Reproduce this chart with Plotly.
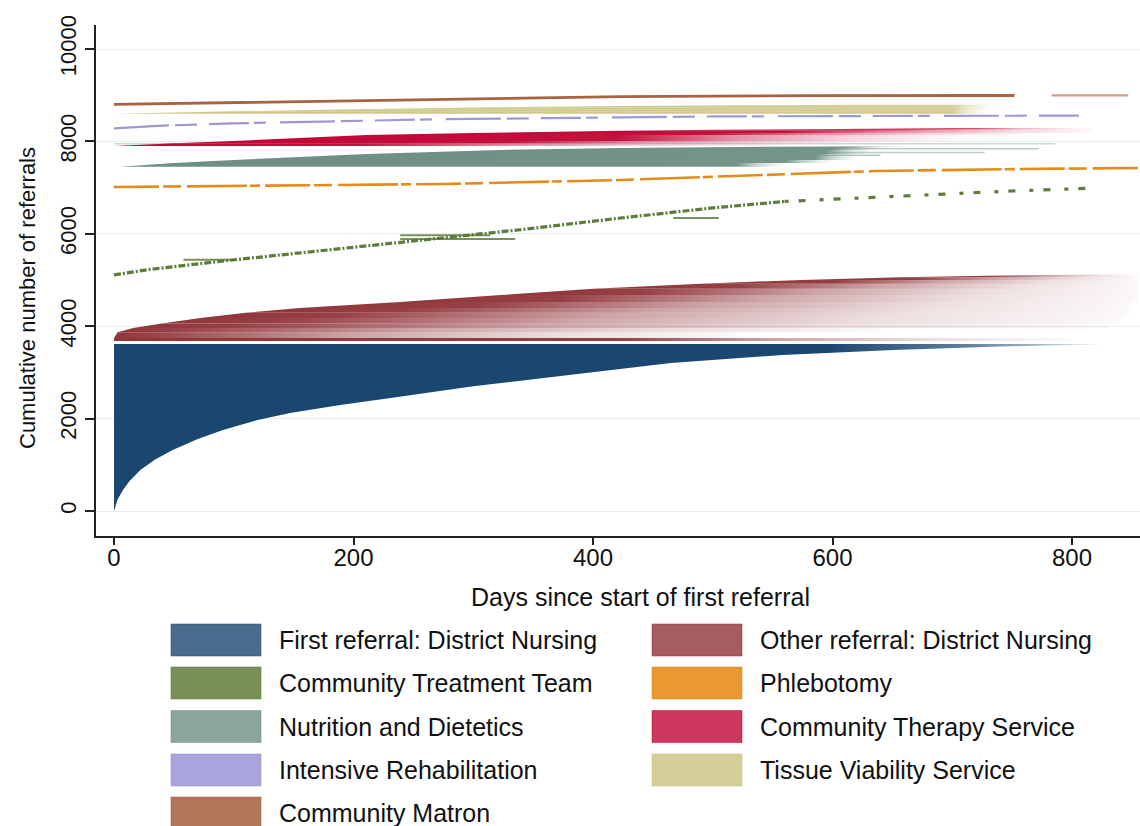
import plotly.graph_objects as go

# ---------------------------------------------------------------------------
# Cumulative referral timelines: each service is a block of horizontal
# referral lines (start day -> end day) stacked by cumulative referral number.
# ---------------------------------------------------------------------------

# First referral: District Nursing (rows ordered by referral length)
first_count = [0, 80, 250, 455, 650, 887, 1110, 1320, 1560, 1753, 1970, 2121, 2294, 2446,
               2700, 2922, 3203, 3377, 3485, 3560, 3600]
first_end_day = [0, 1, 3, 7.5, 13, 22, 34, 49, 70, 91, 120, 147, 189, 231,
                 300, 373, 465, 558, 651, 740, 827]
first_top = 3615

# Other referral: District Nursing (upper edge = start day of each referral)
other_count = [3680, 3745, 3870, 3961, 4060, 4177, 4290, 4394, 4524, 4675, 4810, 4920, 5000, 5060, 5100, 5125]
other_start_day = [0, 0, 3, 16, 40, 72, 110, 155, 239, 323, 400, 490, 574, 657, 741, 841]
other_solid_day = [420, 25, 45, 95, 135, 180, 240, 300, 370, 440, 520, 600, 670, 730, 760]
other_last_day = [800, 520, 640, 830, 840, 845, 850, 850, 855, 855, 855, 855, 855, 855, 850]

# Community Treatment Team
ctt_day = [0, 30, 99, 170, 239, 337, 423, 500, 560]
ctt_count = [5110, 5230, 5433, 5630, 5822, 6082, 6342, 6560, 6700]
ctt_tail_day = [560, 624, 685, 749, 822]
ctt_tail_count = [6700, 6775, 6840, 6926, 6991]
ctt_long_count = [5440, 5890, 5970, 6340]
ctt_long_start = [58, 239, 239, 467]
ctt_long_end = [100, 335, 314, 505]

# Phlebotomy
phleb_day = [0, 172, 275, 423, 530, 637, 750, 855]
phleb_count = [7013, 7056, 7078, 7165, 7270, 7360, 7400, 7425]

# Nutrition and Dietetics
nutr_count = [7450, 7530, 7597, 7727, 7814, 7857, 7880, 7895]
nutr_start_day = [5, 50, 100, 211, 322, 423, 520, 600]
nutr_solid_day = [520, 560, 585, 595, 600, 610, 620]
nutr_last_day = [560, 600, 620, 630, 640, 650, 660]
nutr_tail_count = [7950, 7840, 7760, 7700]
nutr_tail_start = [0, 600, 600, 560]
nutr_tail_end = [786, 772, 727, 640]

# Community Therapy Service
cts_count = [7900, 7960, 8010, 8138, 8180, 8231, 8250, 8270, 8285, 8300]
cts_start_day = [0, 50, 100, 211, 300, 423, 500, 600, 700, 816]
cts_solid_day = [200, 330, 420, 500, 560, 620, 660, 720, 800]
cts_last_day = [560, 640, 700, 760, 816, 816, 816, 816, 818]

# Intensive Rehabilitation
rehab_day = [0, 40, 99, 180, 266, 423, 501, 636, 748, 809]
rehab_count = [8283, 8340, 8390, 8440, 8477, 8520, 8540, 8550, 8555, 8558]

# Tissue Viability Service
tvs_count = [8600, 8650, 8695, 8735, 8766, 8782, 8795, 8805]
tvs_start_day = [0, 100, 200, 300, 423, 520, 620, 726]
tvs_solid_day = [700, 700, 700, 700, 700, 705, 710]
tvs_last_day = [730, 730, 735, 735, 740, 760, 766]

# Community Matron
matron_day = [0, 99, 239, 423, 579, 752]
matron_count = [8800, 8837, 8896, 8968, 8990, 8994]
matron_extra_day = [783, 847]
matron_extra_count = [8995, 8995]

# Axis ticks
x_ticks = [0, 200, 400, 600, 800]
y_ticks = [0, 2000, 4000, 6000, 8000, 10000]

# Service colours (Stata s2color palette)
NAVY = (26, 71, 111)
MAROON = (144, 53, 59)
FOREST = (85, 117, 47)
DKORANGE = (227, 126, 0)
TEAL = (110, 142, 132)
CRANBERRY = (193, 5, 52)
LAVENDER = (147, 141, 210)
KHAKI = (202, 194, 126)
SIENNA = (160, 82, 45)

legend_left = [
    ("First referral: District Nursing", NAVY),
    ("Community Treatment Team", FOREST),
    ("Nutrition and Dietetics", TEAL),
    ("Intensive Rehabilitation", LAVENDER),
    ("Community Matron", SIENNA),
]
legend_right = [
    ("Other referral: District Nursing", MAROON),
    ("Phlebotomy", DKORANGE),
    ("Community Therapy Service", CRANBERRY),
    ("Tissue Viability Service", KHAKI),
]

FONT = "Arial, 'Liberation Sans', sans-serif"


def rgba(rgb, a):
    return f"rgba({rgb[0]},{rgb[1]},{rgb[2]},{a:.3f})"


def band_traces(start_day, count, solid_day, last_day, rgb, peak=1.0):
    """One filled band per pair of edge points; colour fades as referrals end."""
    out = []
    for i in range(len(start_day) - 1):
        x0, x1 = start_day[i], start_day[i + 1]
        c0, c1 = count[i], count[i + 1]
        end = last_day[i]
        fs = (solid_day[i] - x0) / (end - x0)
        fs = min(max(fs, 0.02), 0.97)
        stops = [
            [0.0, rgba(rgb, peak)],
            [fs, rgba(rgb, 0.95 * peak)],
            [fs + (1 - fs) * 0.35, rgba(rgb, 0.45 * peak)],
            [fs + (1 - fs) * 0.7, rgba(rgb, 0.16 * peak)],
            [1.0, rgba(rgb, 0.03 * peak)],
        ]
        out.append(go.Scatter(
            x=[x0, x1, end, end, x0], y=[c0, c1, c1, c0, c0],
            mode="lines", line=dict(width=0), fill="toself",
            fillgradient=dict(type="horizontal", colorscale=stops, start=x0, stop=end),
            hoverinfo="skip", showlegend=False))
    return out


def segment(x0, x1, y, color, width):
    return go.Scatter(x=[x0, x1], y=[y, y], mode="lines",
                      line=dict(color=color, width=width),
                      hoverinfo="skip", showlegend=False)


fig = go.Figure()

# First referral block
fig.add_trace(go.Scatter(
    x=first_end_day + [first_end_day[-1], 0],
    y=first_count + [first_top, first_top],
    mode="lines", line=dict(width=0), fill="toself",
    fillgradient=dict(type="horizontal",
                      colorscale=[[0, rgba(NAVY, 1)], [0.72, rgba(NAVY, 1)],
                                  [0.86, rgba(NAVY, 0.7)], [1, rgba(NAVY, 0.12)]],
                      start=0, stop=first_end_day[-1]),
    hoverinfo="skip", showlegend=False))

# Other referral block
for tr in band_traces(other_start_day, other_count, other_solid_day, other_last_day, MAROON):
    fig.add_trace(tr)

# Community Treatment Team
fig.add_trace(go.Scatter(x=ctt_day, y=ctt_count, mode="lines",
                         line=dict(color=rgba(FOREST, 0.95), width=3.2, dash="7px,2px,2px,2px"),
                         hoverinfo="skip", showlegend=False))
fig.add_trace(go.Scatter(x=ctt_tail_day, y=ctt_tail_count, mode="lines",
                         line=dict(color=rgba(FOREST, 0.95), width=3.2, dash="4px,10px,7px,14px"),
                         hoverinfo="skip", showlegend=False))
for c, s, e in zip(ctt_long_count, ctt_long_start, ctt_long_end):
    fig.add_trace(segment(s, e, c, rgba(FOREST, 0.8), 2))

# Phlebotomy
fig.add_trace(go.Scatter(x=phleb_day, y=phleb_count, mode="lines",
                         line=dict(color=rgba(DKORANGE, 0.9), width=2.6,
                                   dash="45px,4px,18px,6px,60px,3px,10px,5px"),
                         hoverinfo="skip", showlegend=False))

# Nutrition and Dietetics
for tr in band_traces(nutr_start_day, nutr_count, nutr_solid_day, nutr_last_day, TEAL):
    fig.add_trace(tr)
for c, s, e, a in zip(nutr_tail_count, nutr_tail_start, nutr_tail_end, [0.35, 0.45, 0.45, 0.5]):
    fig.add_trace(segment(s, e, c, rgba(TEAL, a), 1.5))

# Community Therapy Service
for tr in band_traces(cts_start_day, cts_count, cts_solid_day, cts_last_day, CRANBERRY):
    fig.add_trace(tr)

# Intensive Rehabilitation
fig.add_trace(go.Scatter(x=rehab_day, y=rehab_count, mode="lines",
                         line=dict(color=rgba(LAVENDER, 0.9), width=2.2,
                                   dash="55px,6px,22px,12px,40px,5px,12px,14px"),
                         hoverinfo="skip", showlegend=False))

# Tissue Viability Service
for tr in band_traces(tvs_start_day, tvs_count, tvs_solid_day, tvs_last_day, KHAKI, peak=0.9):
    fig.add_trace(tr)

# Community Matron
fig.add_trace(go.Scatter(x=matron_day, y=matron_count, mode="lines",
                         line=dict(color=rgba(SIENNA, 0.9), width=2.8),
                         hoverinfo="skip", showlegend=False))
fig.add_trace(go.Scatter(x=matron_extra_day, y=matron_extra_count, mode="lines",
                         line=dict(color=rgba(SIENNA, 0.55), width=2.2),
                         hoverinfo="skip", showlegend=False))

# ---- layout geometry (pixels) ----
W, H = 1140, 826
PL, PR, PT, PB = 96, 1140, 25, 536   # plot area edges
pw, ph = PR - PL, PB - PT


def px(x):
    return (x - PL) / pw


def py(y):
    return (PB - y) / ph


shapes = []
annotations = []

# legend drawn as swatches + labels below the plot
row_y = [640, 683, 726.5, 770, 813]
for items, sx, tx in [(legend_left, 171, 277), (legend_right, 652, 758)]:
    for (label, rgb), yc in zip(items, row_y):
        shapes.append(dict(type="rect", xref="paper", yref="paper",
                           x0=px(sx), x1=px(sx + 90), y0=py(yc + 16), y1=py(yc - 16),
                           fillcolor=rgba(rgb, 0.8), line=dict(color=rgba(rgb, 0.5), width=1),
                           layer="above"))
        annotations.append(dict(x=px(tx), y=py(yc), xref="paper", yref="paper",
                                text=label, showarrow=False, xanchor="left", yanchor="middle",
                                font=dict(family=FONT, size=25, color="#111")))

# axis titles
annotations.append(dict(x=px(640), y=py(597), xref="paper", yref="paper",
                        text="Days since start of first referral", showarrow=False,
                        xanchor="center", yanchor="middle",
                        font=dict(family=FONT, size=25, color="#111")))
annotations.append(dict(x=px(27), y=py(298), xref="paper", yref="paper",
                        text="Cumulative number of referrals", showarrow=False, textangle=-90,
                        xanchor="center", yanchor="middle",
                        font=dict(family=FONT, size=22, color="#111")))

x_per_px = 800 / (1072 - 114)
y_per_px = 10000 / (511 - 49)

fig.update_layout(
    width=W, height=H,
    margin=dict(l=PL, r=W - PR, t=PT, b=H - PB),
    paper_bgcolor="white", plot_bgcolor="white",
    showlegend=False,
    shapes=shapes, annotations=annotations,
    xaxis=dict(range=[(PL - 114) * x_per_px, (PR - 114) * x_per_px],
               tickvals=x_ticks, ticktext=[str(v) for v in x_ticks],
               ticks="outside", ticklen=7, tickwidth=1.5, tickcolor="#222",
               ticklabelstandoff=-8,
               showline=True, linecolor="#222", linewidth=1.5,
               showgrid=False, zeroline=False,
               tickfont=dict(family=FONT, size=24, color="#111")),
    yaxis=dict(range=[(511 - PB) * y_per_px, (511 - PT) * y_per_px],
               tickvals=y_ticks, ticktext=[str(v) for v in y_ticks],
               tickangle=-90,
               ticks="outside", ticklen=9, tickwidth=1.5, tickcolor="#222",
               showline=True, linecolor="#222", linewidth=1.5,
               showgrid=True, gridcolor="#e3eef0", gridwidth=1, zeroline=False,
               tickfont=dict(family=FONT, size=22, color="#111")),
)

fig.write_html("out.html")
